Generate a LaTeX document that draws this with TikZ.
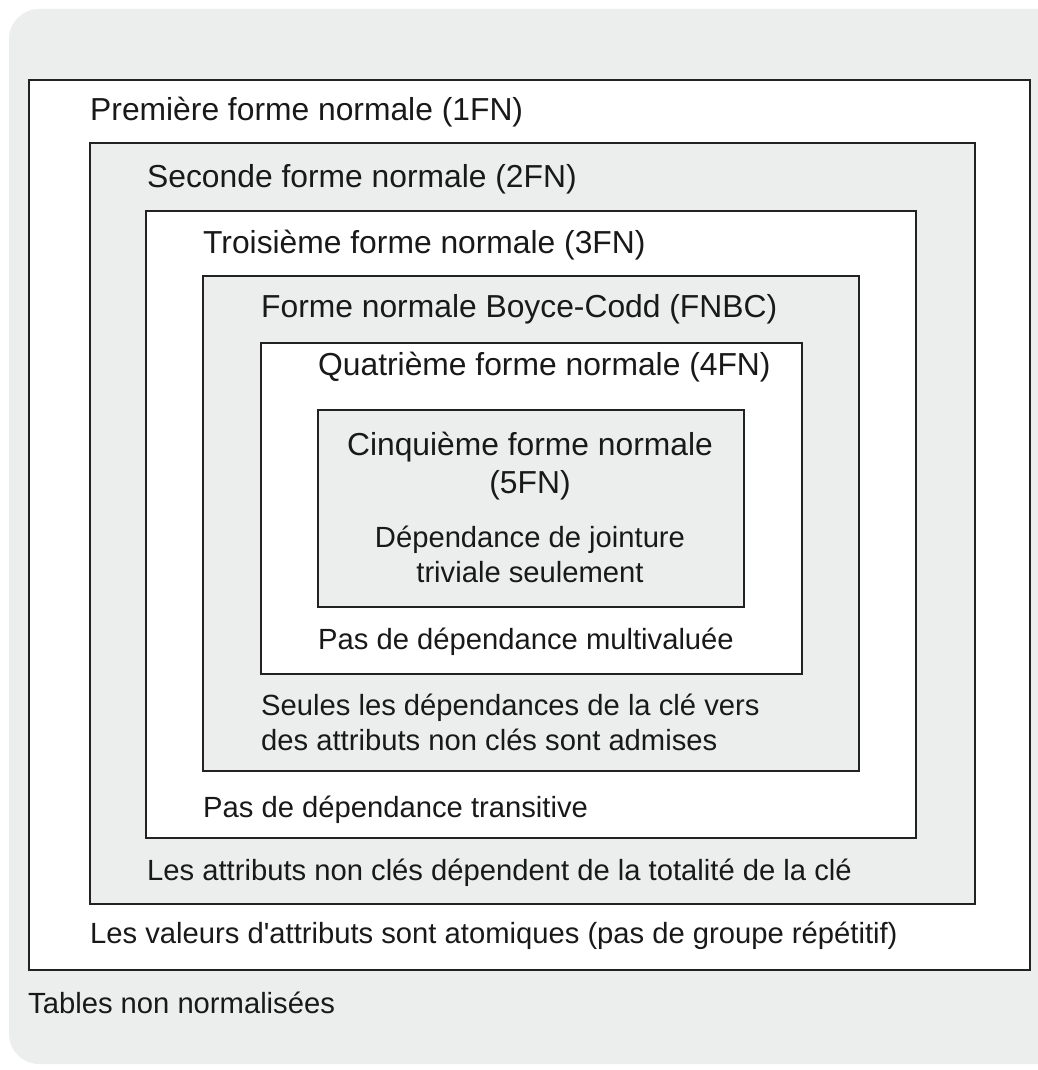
\documentclass[tikz,border=0pt]{standalone}
\usepackage{fontspec}
\setmainfont{Liberation Sans}
\usetikzlibrary{positioning}
\definecolor{panelgrey}{HTML}{ECEDED}
\definecolor{edgegrey}{HTML}{222222}

\begin{document}
\begin{tikzpicture}[x=1pt,y=-1pt,
  nfbox/.style={draw=edgegrey, line width=1.6pt, rectangle, anchor=north west, inner sep=0pt},
  whitebox/.style={nfbox, fill=white},
  greybox/.style={nfbox, fill=panelgrey},
  nflabel/.style={anchor=base west, inner sep=0pt, text=black!90,
    font=\fontsize{29.2}{35}\selectfont},
  nftitle/.style={nflabel, font=\fontsize{31.8}{38}\selectfont},
  ]

  \useasboundingbox (0,0) rectangle (1037,1070);
  \fill[panelgrey, rounded corners=30pt] (1045,9) -- (9,9) -- (9,1064) -- (1045,1064);

  \node (FN1) [whitebox, minimum width=1001pt, minimum height=890pt] at (28,79) {};
  \node (FN2) [greybox, minimum width=885pt, minimum height=761pt] at (89,142) {};
  \node (FN3) [whitebox, minimum width=770pt, minimum height=627pt] at (145,210) {};
  \node (FNBC) [greybox, minimum width=656pt, minimum height=495pt] at (202,275) {};
  \node (FN4) [whitebox, minimum width=541pt, minimum height=331pt] at (260,342) {};
  \node (FN5) [greybox, minimum width=426pt, minimum height=197pt] at (317,409) {};

  % titres
  \node (t1) [nftitle] at (90,121) {Première forme normale (1FN)};
  \node (t2) [nftitle] at (147,187) {Seconde forme normale (2FN)};
  \node (t3) [nftitle] at (203,253) {Troisième forme normale (3FN)};
  \node (tbc) [nftitle] at (261,317) {Forme normale Boyce-Codd (FNBC)};
  \node (t4) [nftitle] at (318,375) {Quatrième forme normale (4FN)};
  \node (t5) [nftitle, anchor=base, align=center] at (530,493) {Cinquième forme normale\\(5FN)};

  % conditions
  \node (c5) [nflabel, anchor=base, align=center] at (530,582) {Dépendance de jointure\\triviale seulement};
  \node (c4) [nflabel] at (318,649) {Pas de dépendance multivaluée};
  \node (cbc) [nflabel, align=left] at (261,750) {Seules les dépendances de la clé vers\\des attributs non clés sont admises};
  \node (c3) [nflabel] at (203,817) {Pas de dépendance transitive};
  \node (c2) [nflabel] at (147,880) {Les attributs non clés dépendent de la totalité de la clé};
  \node (c1) [nflabel] at (90,943) {Les valeurs d\textquotesingle attributs sont atomiques (pas de groupe répétitif)};
  \node (c0) [nflabel] at (28,1013) {Tables non normalisées};

\end{tikzpicture}
\end{document}
